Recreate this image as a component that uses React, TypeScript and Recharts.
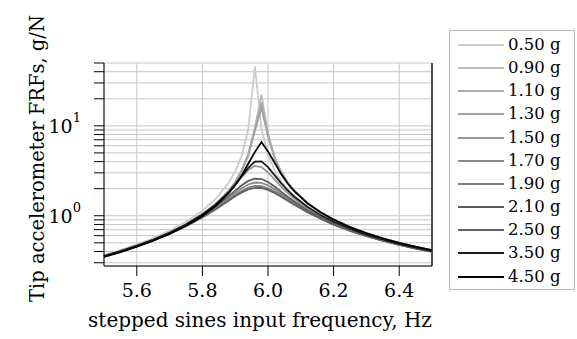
import React from 'react';
import { LineChart, Line, XAxis, YAxis, CartesianGrid, ReferenceLine } from 'recharts';

// stepped sine frequencies, Hz
const freqs = [5.5, 5.55, 5.6, 5.65, 5.7, 5.75, 5.8, 5.84, 5.88, 5.9, 5.92, 5.94, 5.96, 5.98, 6.0, 6.02, 6.04, 6.06, 6.08, 6.12, 6.16, 6.2, 6.25, 6.3, 6.35, 6.4, 6.45, 6.5];

// FRF magnitude, g/N, one array per excitation level
const g050 = [0.365, 0.415, 0.479, 0.564, 0.682, 0.855, 1.137, 1.532, 2.32, 3.11, 4.66, 9.22, 46, 9.31, 4.76, 3.21, 2.42, 1.943, 1.627, 1.232, 0.996, 0.838, 0.702, 0.606, 0.534, 0.479, 0.435, 0.399];
const g090 = [0.351, 0.397, 0.456, 0.532, 0.637, 0.786, 1.021, 1.33, 1.885, 2.376, 3.198, 4.84, 9.55, 22.4, 8.14, 4.49, 3.087, 2.354, 1.905, 1.387, 1.093, 0.904, 0.747, 0.639, 0.559, 0.499, 0.451, 0.413];
const g110 = [0.351, 0.397, 0.456, 0.532, 0.637, 0.786, 1.02, 1.329, 1.882, 2.369, 3.18, 4.784, 9.13, 18.2, 7.88, 4.444, 3.072, 2.348, 1.902, 1.386, 1.092, 0.904, 0.747, 0.638, 0.559, 0.499, 0.451, 0.412];
const g130 = [0.351, 0.397, 0.456, 0.532, 0.636, 0.786, 1.02, 1.328, 1.878, 2.362, 3.164, 4.728, 8.77, 15.8, 7.65, 4.403, 3.059, 2.342, 1.899, 1.385, 1.092, 0.904, 0.747, 0.638, 0.559, 0.499, 0.451, 0.412];
const g150 = [0.358, 0.406, 0.467, 0.547, 0.655, 0.81, 1.049, 1.352, 1.853, 2.225, 2.701, 3.226, 3.578, 3.48, 3.031, 2.531, 2.113, 1.791, 1.546, 1.206, 0.986, 0.835, 0.702, 0.607, 0.536, 0.481, 0.437, 0.401];
const g170 = [0.355, 0.402, 0.461, 0.537, 0.638, 0.78, 0.987, 1.231, 1.578, 1.795, 2.024, 2.226, 2.341, 2.322, 2.18, 1.975, 1.76, 1.563, 1.394, 1.131, 0.945, 0.811, 0.688, 0.598, 0.53, 0.477, 0.434, 0.399];
const g190 = [0.354, 0.4, 0.458, 0.533, 0.633, 0.77, 0.969, 1.197, 1.509, 1.696, 1.887, 2.051, 2.142, 2.129, 2.021, 1.855, 1.675, 1.503, 1.351, 1.109, 0.932, 0.803, 0.683, 0.595, 0.528, 0.475, 0.433, 0.398];
const g210 = [0.356, 0.403, 0.463, 0.54, 0.644, 0.789, 1.006, 1.266, 1.653, 1.904, 2.183, 2.441, 2.591, 2.56, 2.371, 2.112, 1.853, 1.627, 1.437, 1.153, 0.958, 0.818, 0.692, 0.601, 0.532, 0.478, 0.435, 0.4];
const g250 = [0.353, 0.399, 0.457, 0.531, 0.63, 0.765, 0.958, 1.177, 1.472, 1.644, 1.817, 1.963, 2.043, 2.034, 1.939, 1.793, 1.629, 1.47, 1.327, 1.096, 0.925, 0.798, 0.68, 0.593, 0.527, 0.474, 0.432, 0.398];
const g350 = [0.355, 0.402, 0.462, 0.54, 0.646, 0.797, 1.031, 1.329, 1.83, 2.218, 2.745, 3.408, 3.994, 4.02, 3.472, 2.826, 2.306, 1.921, 1.637, 1.257, 1.018, 0.857, 0.717, 0.618, 0.544, 0.487, 0.442, 0.405];
const g450 = [0.349, 0.394, 0.452, 0.527, 0.628, 0.773, 0.996, 1.283, 1.781, 2.19, 2.812, 3.815, 5.1, 6.6, 5.2, 3.901, 2.903, 2.283, 1.875, 1.378, 1.091, 0.905, 0.748, 0.64, 0.561, 0.5, 0.452, 0.414];

const levels = ['0.50 g', '0.90 g', '1.10 g', '1.30 g', '1.50 g', '1.70 g', '1.90 g', '2.10 g', '2.50 g', '3.50 g', '4.50 g'];
const seriesValues = [g050, g090, g110, g130, g150, g170, g190, g210, g250, g350, g450];
const colors = ['#cccccc', '#bcbcbc', '#ababab', '#a2a2a2', '#979797', '#8a8a8a', '#7e7e7e', '#5c5c5c', '#626262', '#1c1c1c', '#000000'];

const xTicks = [5.6, 5.8, 6.0, 6.2, 6.4];
const yTicks = [0.3, 0.4, 0.5, 0.6, 0.7, 0.8, 0.9, 1, 2, 3, 4, 5, 6, 7, 8, 9, 10, 20, 30, 40, 50];

const data = freqs.map((f, i) => {
  const row: any = { f };
  levels.forEach((lv, k) => { row[lv] = seriesValues[k][i]; });
  return row;
});

const serif = '"DejaVu Serif", serif';

const YTick = (props: any) => {
  const { y, payload } = props;
  const v = payload.value;
  if (v !== 1 && v !== 10) return <g />;
  return (
    <text x={81} y={y} dy={7} textAnchor="end" fontFamily={serif} fontSize={19} fill="#000">
      10<tspan dy={-11} fontSize={13}>{v === 1 ? '0' : '1'}</tspan>
    </text>
  );
};

export default function App() {
  return (
    <div style={{ position: 'absolute', left: 0, top: 0, width: 577, height: 339, background: '#fff' }}>
      <LineChart width={577} height={339} data={data} margin={{ top: 63, right: 145, bottom: 0, left: 0 }}>
        <CartesianGrid stroke="#c6c6c6" strokeWidth={1} />
        <XAxis
          dataKey="f"
          type="number"
          domain={[5.5, 6.5]}
          ticks={xTicks}
          tickFormatter={(v: number) => v.toFixed(1)}
          height={73}
          tickSize={10}
          tickMargin={8}
          stroke="#000"
          tick={{ fill: '#000', fontSize: 19, fontFamily: serif }}
        />
        <YAxis
          type="number"
          scale="log"
          domain={[0.276, 50]}
          allowDataOverflow
          ticks={yTicks}
          interval={0}
          width={104}
          tickSize={10}
          stroke="#000"
          tick={<YTick />}
        />
        <ReferenceLine x={6.5} stroke="#000" strokeWidth={1.3} />
        {levels.map((lv, k) => (
          <Line
            key={lv}
            dataKey={lv}
            type="linear"
            stroke={colors[k]}
            strokeWidth={1.8}
            dot={false}
            isAnimationActive={false}
          />
        ))}
      </LineChart>
      <svg width={577} height={339} style={{ position: 'absolute', left: 0, top: 0, pointerEvents: 'none' }}>
        <text x={260} y={327} textAnchor="middle" fontFamily={serif} fontSize={20} fill="#000">
          stepped sines input frequency, Hz
        </text>
        <text
          transform="translate(44,158.5) rotate(-90)"
          textAnchor="middle"
          fontFamily={serif}
          fontSize={19.5}
          fill="#000"
        >
          Tip accelerometer FRFs, g/N
        </text>
      </svg>
      <div
        style={{
          position: 'absolute',
          left: 449,
          top: 30,
          width: 126,
          height: 260,
          boxSizing: 'border-box',
          border: '1px solid #bbbbbb',
          background: '#fff',
        }}
      >
        {levels.map((lv, k) => (
          <div
            key={lv}
            style={{ position: 'absolute', left: 0, top: 14 + k * 23.15 - 11, height: 22, display: 'flex', alignItems: 'center' }}
          >
            <svg width={55} height={22}>
              <line x1={8} x2={54} y1={11} y2={11} stroke={colors[k]} strokeWidth={1.8} />
            </svg>
            <span style={{ fontFamily: serif, fontSize: 16.5, marginLeft: 3, lineHeight: '22px', color: '#000' }}>
              {lv}
            </span>
          </div>
        ))}
      </div>
    </div>
  );
}
